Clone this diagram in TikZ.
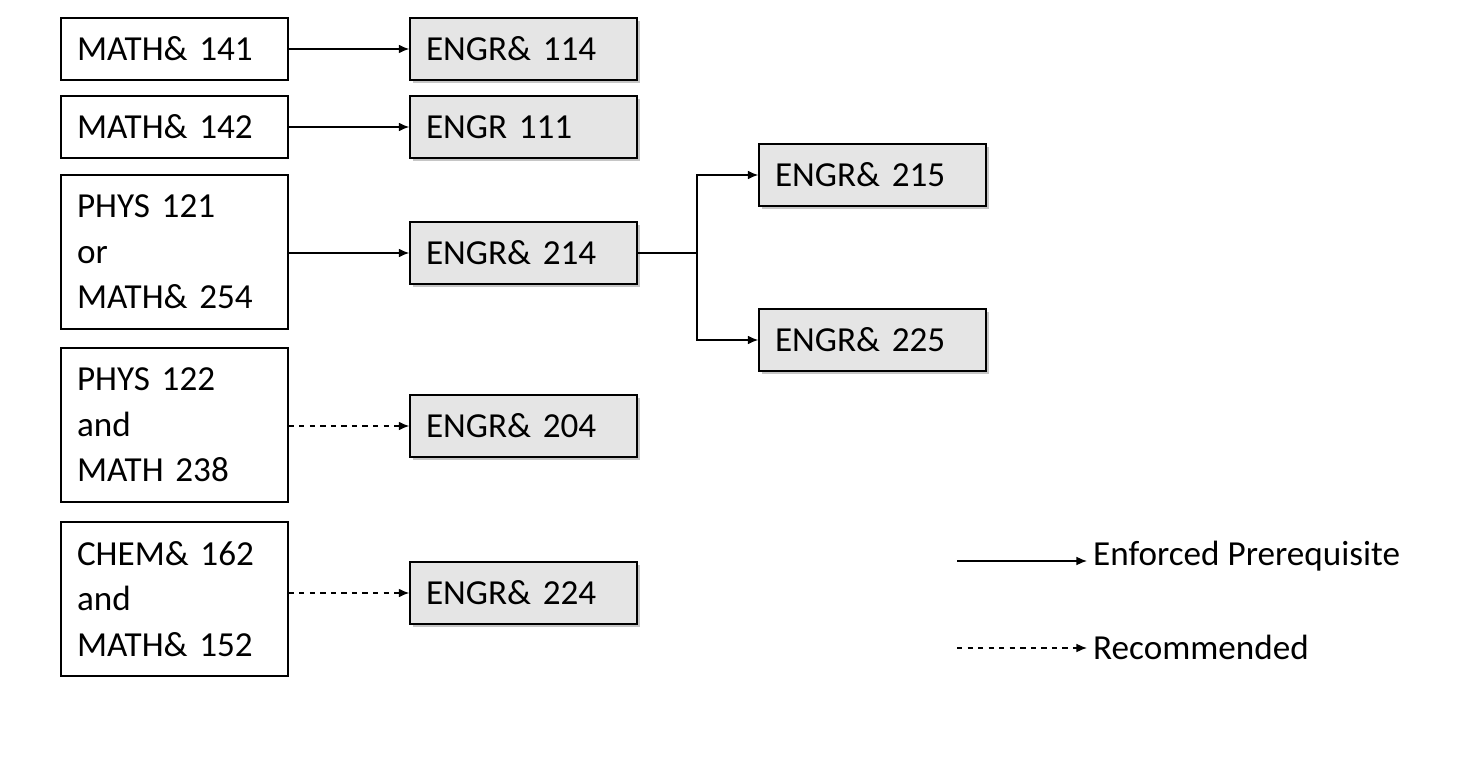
\documentclass[tikz,border=0pt]{standalone}
\usepackage{fontspec}
\setmainfont{Carlito}
\usetikzlibrary{arrows.meta,shadows}

\begin{document}
\begin{tikzpicture}[x=0.02cm,y=-0.02cm,
  every node/.style={font=\fontsize{20}{26}\selectfont},
  pre/.style={draw=black,thick,fill=white,minimum width=4.54cm,text width=3.9cm,align=left,inner xsep=0.32cm,inner ysep=0pt},
  course/.style={pre,fill=black!10,drop shadow={shadow xshift=0.06cm,shadow yshift=-0.06cm,opacity=0.45}},
  req/.style={thick,-{Latex[length=6pt,width=5pt]}},
  rec/.style={req,dashed}]
\useasboundingbox (0,0) rectangle (1472,757);
% left column
\node[pre,minimum height=1.24cm] (m141) at (174.5,49) {MATH\& 141};
\node[pre,minimum height=1.24cm] (m142) at (174.5,127) {MATH\& 142};
\node[pre,minimum height=3.08cm] (p121) at (174.5,252) {PHYS 121\\or\\MATH\& 254};
\node[pre,minimum height=3.08cm] (p122) at (174.5,425) {PHYS 122\\and\\MATH 238};
\node[pre,minimum height=3.08cm] (c162) at (174.5,599) {CHEM\& 162\\and\\MATH\& 152};
% engineering courses
\node[course,minimum height=1.24cm] (e114) at (523.5,49) {ENGR\& 114};
\node[course,minimum height=1.24cm] (e111) at (523.5,127) {ENGR 111};
\node[course,minimum height=1.24cm] (e214) at (523.5,253) {ENGR\& 214};
\node[course,minimum height=1.24cm] (e204) at (523.5,426) {ENGR\& 204};
\node[course,minimum height=1.24cm] (e224) at (523.5,593) {ENGR\& 224};
\node[course,minimum height=1.24cm] (e215) at (872.5,175) {ENGR\& 215};
\node[course,minimum height=1.24cm] (e225) at (872.5,340) {ENGR\& 225};
% arrows
\draw[req] (m141) -- (e114);
\draw[req] (m142) -- (e111);
\draw[req] (p121.east |- e214) -- (e214);
\draw[rec] (p122.east |- e204) -- (e204);
\draw[rec] (c162.east |- e224) -- (e224);
\coordinate (split) at (697,253);
\draw[thick] (e214) -- (split);
\draw[req] (split) |- (e215);
\draw[req] (split) |- (e225);
% legend
\coordinate (ls) at (957,561);
\coordinate (ds) at (957,648);
\node[anchor=west] (lreq) at (1087,556) {Enforced Prerequisite};
\node[anchor=west] (lrec) at (1087,647) {Recommended};
\draw[req] (ls) -- (ls -| lreq.west);
\draw[rec] (ds) -- (ds -| lrec.west);
\end{tikzpicture}
\end{document}
